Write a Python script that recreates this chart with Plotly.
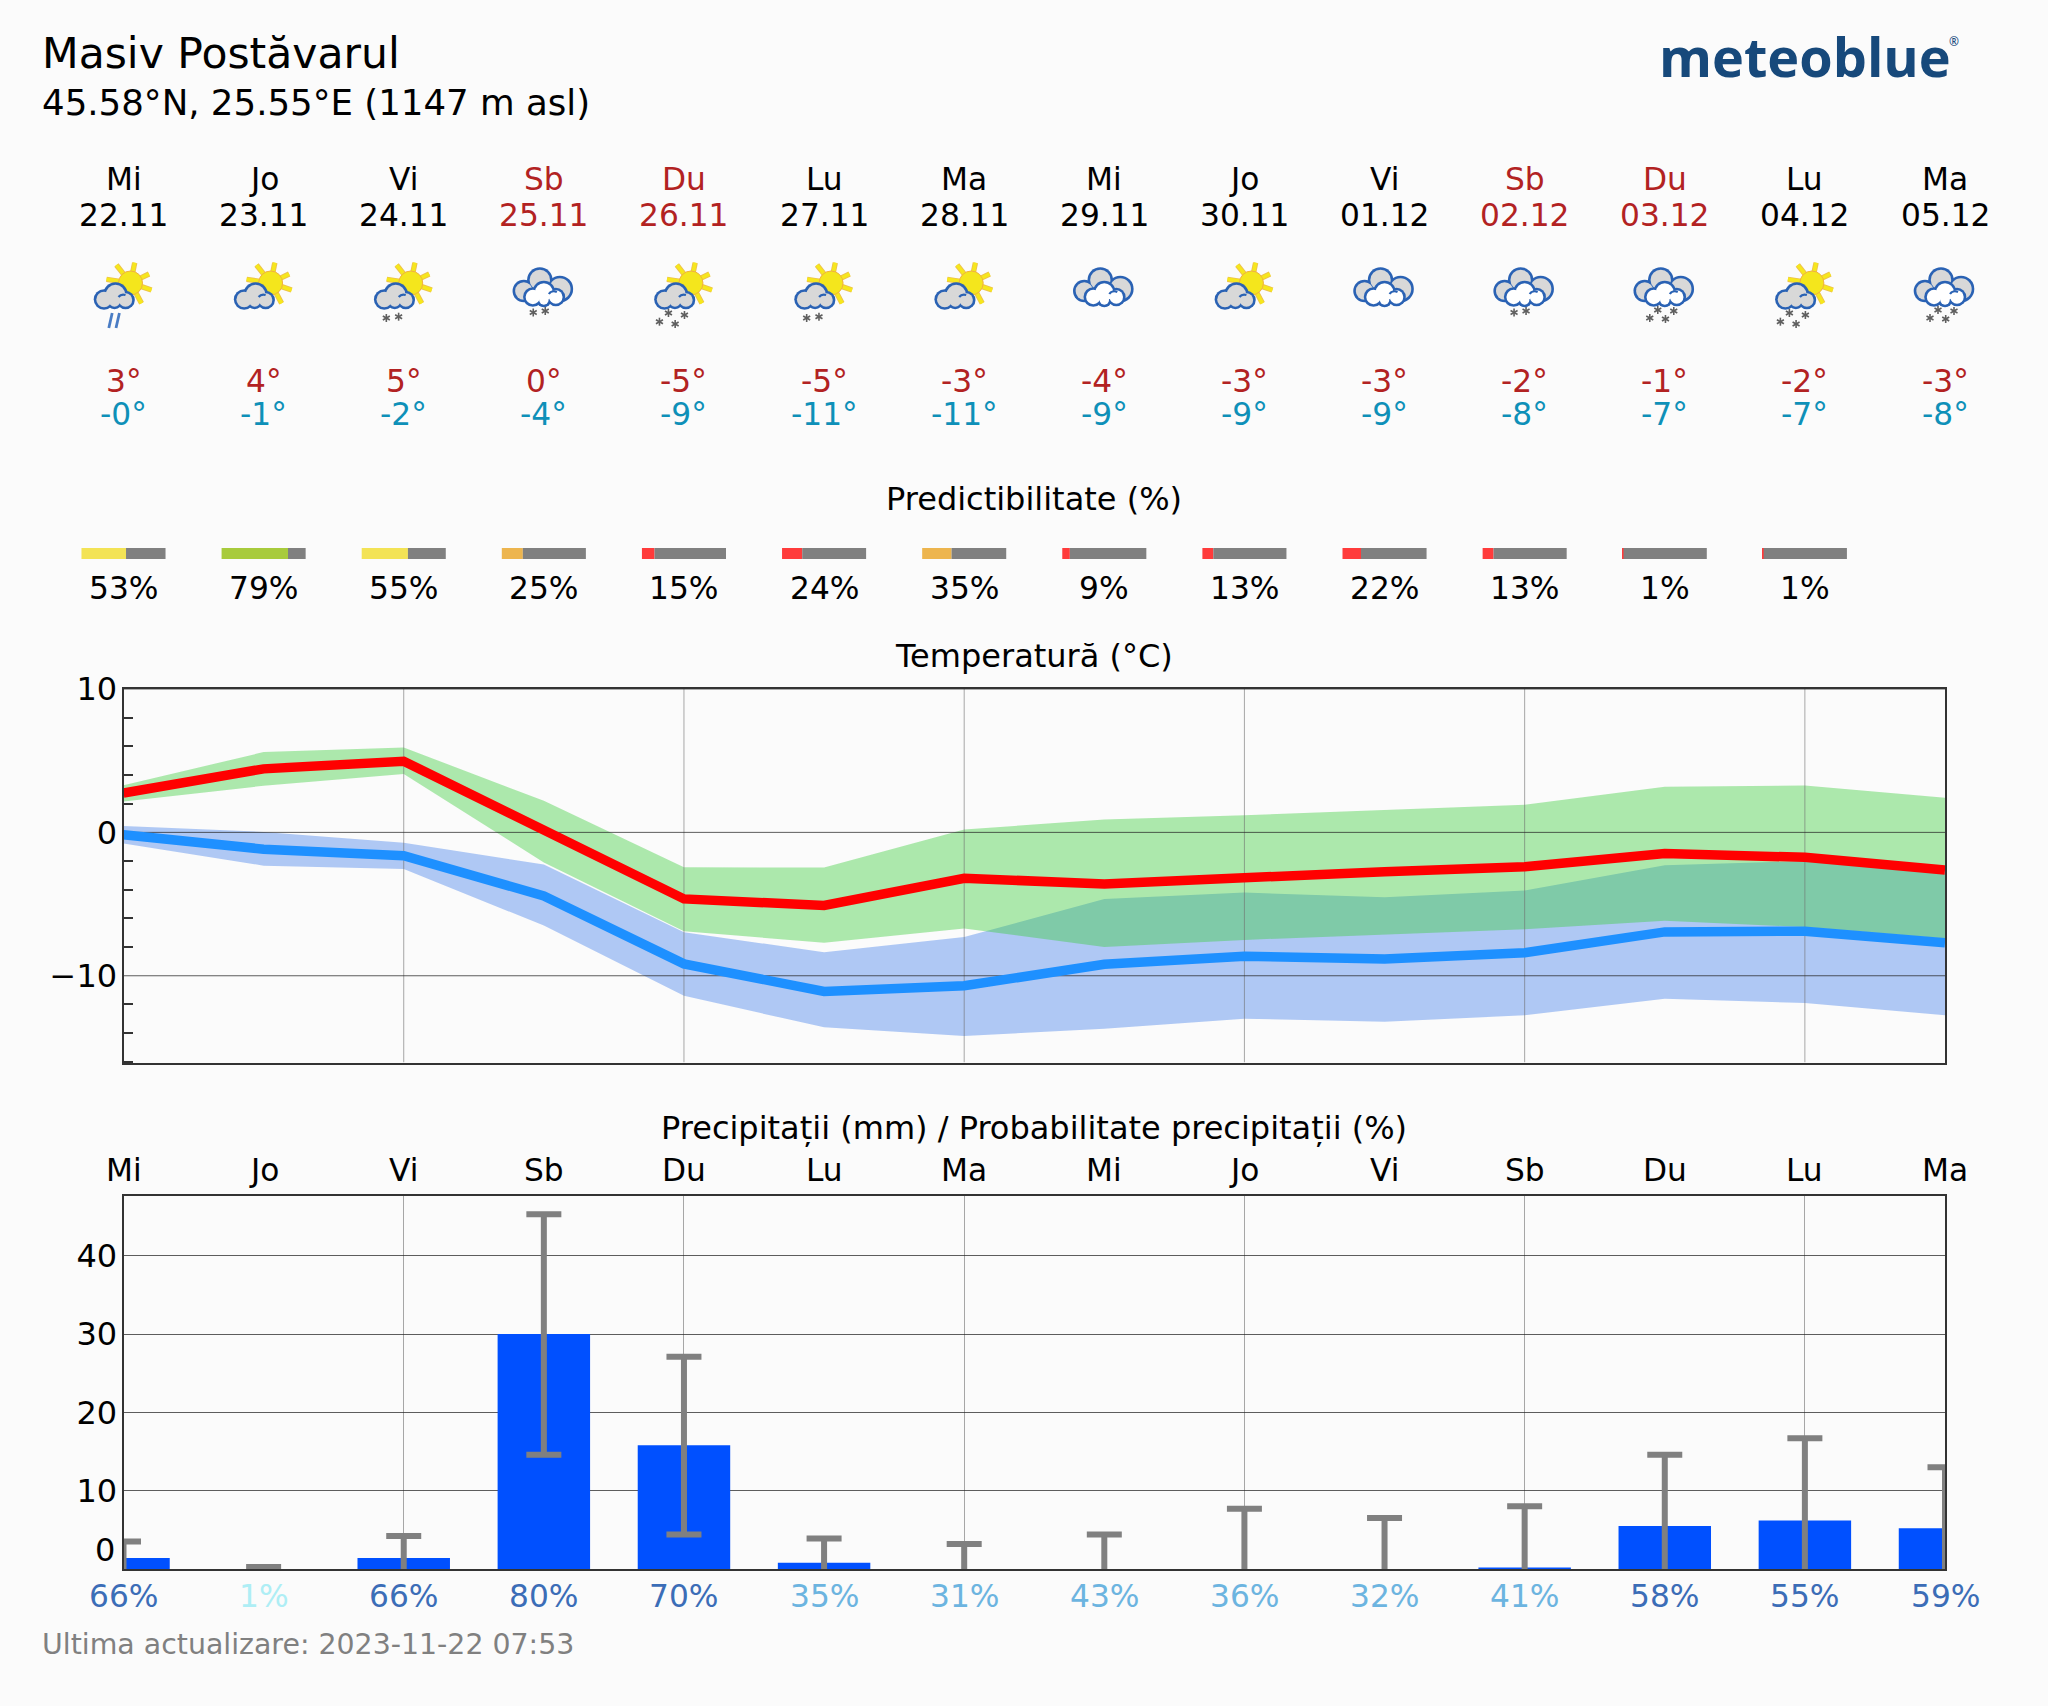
import base64
import math
import plotly.graph_objects as go

# ---------- data ----------
days = list(range(14))
weekday = ["Mi", "Jo", "Vi", "Sb", "Du", "Lu", "Ma", "Mi", "Jo", "Vi", "Sb", "Du", "Lu", "Ma"]
dates = ["22.11", "23.11", "24.11", "25.11", "26.11", "27.11", "28.11", "29.11", "30.11",
         "01.12", "02.12", "03.12", "04.12", "05.12"]
weekend = [3, 4, 10, 11]
tmax_lbl = ["3°", "4°", "5°", "0°", "-5°", "-5°", "-3°", "-4°", "-3°", "-3°", "-2°", "-1°", "-2°", "-3°"]
tmin_lbl = ["-0°", "-1°", "-2°", "-4°", "-9°", "-11°", "-11°", "-9°", "-9°", "-9°", "-8°", "-7°", "-7°", "-8°"]
icons = ["sun+rain", "sun", "sun+snow2", "big+snow2", "sun+snow4", "sun+snow2", "sun", "big", "sun", "big",
         "big+snow2", "big+snow4", "sun+snow4", "big+snow4"]

predict = [53, 79, 55, 25, 15, 24, 35, 9, 13, 22, 13, 1, 1]
predict_color = ["#F3E355", "#A8CB3C", "#F3E355", "#EDB54E", "#FF3B3B", "#FF3B3B", "#EDB54E", "#FF3B3B",
                 "#FF3B3B", "#FF3B3B", "#FF3B3B", "#FF3B3B", "#FF3B3B"]

t_max = [2.75, 4.43, 4.96, 0.08, -4.64, -5.1, -3.2, -3.6, -3.1, -2.74, -2.39, -1.48, -1.74, -2.62]
t_max_hi = [3.28, 5.6, 5.92, 2.2, -2.43, -2.45, 0.2, 0.9, 1.2, 1.55, 1.93, 3.18, 3.27, 2.41]
t_max_lo = [2.16, 3.25, 4.08, -2.1, -6.9, -7.7, -6.7, -8.0, -7.5, -7.1, -6.75, -6.17, -6.6, -7.4]
t_min = [-0.16, -1.17, -1.63, -4.43, -9.17, -11.1, -10.7, -9.2, -8.64, -8.84, -8.4, -6.94, -6.89, -7.7]
t_min_hi = [0.45, 0.03, -0.72, -2.24, -6.96, -8.36, -7.3, -4.64, -4.2, -4.52, -4.06, -2.3, -2.0, -2.85]
t_min_lo = [-0.77, -2.32, -2.56, -6.5, -11.4, -13.6, -14.2, -13.7, -13.0, -13.2, -12.76, -11.6, -11.9, -12.76]

prec = [1.4, 0, 1.4, 30, 15.8, 0.8, 0, 0, 0, 0, 0.2, 5.5, 6.2, 5.2]
prec_hi = [3.5, 0.25, 4.2, 45.3, 27.1, 3.9, 3.2, 4.4, 7.7, 6.5, 8.0, 14.6, 16.7, 13.0]
prec_lo = [-1, -1, -1, 14.6, 4.4, -1, -1, -1, -1, -1, -1, -1, -1, -1]
prec_prob = [66, 1, 66, 80, 70, 35, 31, 43, 36, 32, 41, 58, 55, 59]
prob_color = ["#3B6DB7", "#AEEEF5", "#3B6DB7", "#3B6DB7", "#3B6DB7", "#6CB4E0", "#6CB4E0", "#6CB4E0", "#6CB4E0",
              "#6CB4E0", "#6CB4E0", "#3B6DB7", "#3B6DB7", "#3B6DB7"]

temp_major = [-10, 0, 10]
temp_minor = [-16, -14, -12, -8, -6, -4, -2, 2, 4, 6, 8]
prec_ticks = [10, 20, 30, 40]
vgrid = [2, 4, 6, 8, 10, 12]

# ---------- page geometry ----------
W, H = 2048, 1706
FONT = "DejaVu Sans"
BG = "#FBFBFB"
AX_L, AX_R = 123.5, 1945
T_TOP, T_BOT = 689, 1062.5
P_TOP, P_BOT = 1195.5, 1569
B_TOP, B_BOT = 548, 559
YMIN = -16.05
PMAX = 47.7
BAR_W = 0.6
DAY_PX = (AX_R - AX_L) / 13


def py(y):
    return 1 - y / H


def xpx(d):
    return AX_L + DAY_PX * d


# ---------- icons (inline SVG) ----------
def circles(items, stroke, fill, sw=2.6):
    s = "".join(f'<circle cx="{x}" cy="{y}" r="{r + sw / 2}" fill="{stroke}"/>' for x, y, r in items)
    return s + "".join(f'<circle cx="{x}" cy="{y}" r="{r - sw / 2}" fill="{fill}"/>' for x, y, r in items)


def sun_svg():
    cx, cy = 62, 33
    ends = [(47.9, 15), (66.2, 12.7), (80.5, 24), (83, 40), (73, 53.3), (38, 29.3)]
    s = ""
    for col, w in (("#EDC24A", 5.4), ("#F6E71E", 3.6)):
        for ex, ey in ends:
            sx = cx + (ex - cx) * 0.45
            sy = cy + (ey - cy) * 0.45
            s += f'<line x1="{sx:.1f}" y1="{sy:.1f}" x2="{ex}" y2="{ey}" stroke="{col}" stroke-width="{w}"/>'
    s += f'<circle cx="{cx}" cy="{cy}" r="12" fill="#F4E61E" stroke="#F0B040" stroke-width="1"/>'
    return s


def small_cloud():
    s = circles([(35.5, 49.5, 9), (47, 44.5, 11), (57, 50, 8), (46, 51, 7)], "#2A62B4", "#D8D8D8")
    s += '<path d="M50 47 a6 5 0 0 1 7 -2" fill="none" stroke="#2A62B4" stroke-width="2.2"/>'
    return s


def big_cloud():
    s = circles([(35, 41, 10), (51, 30, 11.5), (71, 39, 12), (52, 42, 10)], "#2A62B4", "#D8D8D8")
    s += circles([(44, 47, 8.5), (55, 42, 10), (67, 47, 8), (55, 50, 6)], "#2A62B4", "#FFFFFF")
    s += '<path d="M60 44 a6 5 0 0 1 8 -2" fill="none" stroke="#2A62B4" stroke-width="2.2"/>'
    return s


def star(x, y, r=4):
    s = ""
    for k in range(3):
        a = math.pi / 3 * k + math.pi / 2
        dx, dy = r * math.cos(a), r * math.sin(a)
        s += (f'<line x1="{x - dx:.1f}" y1="{y - dy:.1f}" x2="{x + dx:.1f}" y2="{y + dy:.1f}" '
              f'stroke="#5F5F5F" stroke-width="1.6"/>')
    return s


STARS = {
    ("sun", "snow2"): [(37.6, 68), (49.9, 66.7)],
    ("sun", "snow4"): [(39.5, 63), (55.5, 65), (30.5, 71.7), (46.2, 74)],
    ("big", "snow2"): [(44.4, 62.5), (56.4, 61)],
    ("big", "snow4"): [(48, 60), (64, 61), (40, 68), (55.7, 69)],
}


def icon_uri(code):
    parts = code.split("+")
    kind = parts[0]
    extra = parts[1] if len(parts) > 1 else ""
    body = ""
    if kind == "sun":
        body += sun_svg() + small_cloud()
    else:
        body += big_cloud()
    if extra == "rain":
        for x0 in (40.3, 47.5):
            body += (f'<line x1="{x0}" y1="78" x2="{x0 + 3.4}" y2="63" stroke="#4A7CC4" stroke-width="2.8"/>')
    elif extra:
        for x, y in STARS[(kind, extra)]:
            body += star(x, y)
    svg = ('<svg xmlns="http://www.w3.org/2000/svg" width="110" height="90" viewBox="0 0 110 90">'
           '<filter id="b"><feGaussianBlur stdDeviation="0.35"/></filter>'
           f'<g filter="url(#b)">{body}</g></svg>')
    return "data:image/svg+xml;base64," + base64.b64encode(svg.encode()).decode()


# ---------- figure ----------
fig = go.Figure()

# predictability strip
fig.add_trace(go.Bar(
    orientation="h", y=[0.5] * len(predict), x=[BAR_W * p / 100 for p in predict],
    base=[d - BAR_W / 2 for d in days[:len(predict)]], width=1, marker=dict(color=predict_color, line_width=0),
    xaxis="x3", yaxis="y3", hoverinfo="skip"))
fig.add_trace(go.Bar(
    orientation="h", y=[0.5] * len(predict), x=[BAR_W * (100 - p) / 100 for p in predict],
    base=[d - BAR_W / 2 + BAR_W * p / 100 for d, p in zip(days, predict)], width=1,
    marker=dict(color="#808080", line_width=0), xaxis="x3", yaxis="y3", hoverinfo="skip"))

# temperature bands
BLUE_FILL = "rgba(63,126,236,0.4)"
GREEN_FILL = "rgba(55,205,55,0.4)"
fig.add_trace(go.Scatter(x=days, y=t_min_hi, mode="lines", line=dict(width=0), xaxis="x", yaxis="y", hoverinfo="skip"))
fig.add_trace(go.Scatter(x=days, y=t_min_lo, mode="lines", line=dict(width=0), fill="tonexty", fillcolor=BLUE_FILL,
                         xaxis="x", yaxis="y", hoverinfo="skip"))
fig.add_trace(go.Scatter(x=days, y=t_max_hi, mode="lines", line=dict(width=0), xaxis="x", yaxis="y", hoverinfo="skip"))
fig.add_trace(go.Scatter(x=days, y=t_max_lo, mode="lines", line=dict(width=0), fill="tonexty", fillcolor=GREEN_FILL,
                         xaxis="x", yaxis="y", hoverinfo="skip"))

# temperature grid over the bands, under the lines
gx, gy = [], []
for v in vgrid:
    gx += [v, v, None]
    gy += [YMIN, 10, None]
fig.add_trace(go.Scatter(x=gx, y=gy, mode="lines", line=dict(color="rgba(110,110,110,0.6)", width=1),
                         xaxis="x", yaxis="y", hoverinfo="skip"))
hx, hy = [], []
for v in temp_major:
    hx += [0, 13, None]
    hy += [v, v, None]
fig.add_trace(go.Scatter(x=hx, y=hy, mode="lines", line=dict(color="rgba(40,40,40,0.75)", width=1),
                         xaxis="x", yaxis="y", hoverinfo="skip"))

fig.add_trace(go.Scatter(x=days, y=t_max, mode="lines", line=dict(color="#FF0000", width=9.5), xaxis="x", yaxis="y",
                         hoverinfo="skip"))
fig.add_trace(go.Scatter(x=days, y=t_min, mode="lines", line=dict(color="#1E90FF", width=9.5), xaxis="x", yaxis="y",
                         hoverinfo="skip"))

# precipitation
fig.add_trace(go.Bar(
    x=days, y=prec, width=0.66, marker=dict(color="#0050FF", line_width=0), xaxis="x2", yaxis="y2", hoverinfo="skip",
    error_y=dict(type="data", symmetric=False,
                 array=[h - v for h, v in zip(prec_hi, prec)],
                 arrayminus=[v - l for v, l in zip(prec, prec_lo)],
                 color="#808080", thickness=6, width=17.5)))

# ---------- annotations ----------
ann = []


def text(x, y, s, size=31.25, color="black", anchor="center", xref="x", **font):
    ann.append(dict(x=x, y=py(y), xref=xref, yref="paper", text=s, showarrow=False, xanchor=anchor, yanchor="middle",
                    font=dict(family=font.pop("family", FONT), size=size, color=color, **font)))


LEFT = 39.5 / W
text(LEFT, 53.5, "Masiv Postăvarul", size=42.5, anchor="left", xref="paper")
text(LEFT, 103, "45.58°N, 25.55°E (1147 m asl)", size=35.6, anchor="left", xref="paper")
text(1805 / W, 56, "meteoblue", size=54, color="#17497B", xref="paper", family="Open Sans", weight=700)
text(1954 / W, 41, "®", size=12, color="#17497B", xref="paper", family="Open Sans", weight=600)

RED = "#B22222"
for d in days:
    col = RED if d in weekend else "black"
    text(d, 179, weekday[d], color=col)
    text(d, 215, dates[d], color=col)
    text(d, 381.5, tmax_lbl[d], color=RED)
    text(d, 413.5, tmin_lbl[d], color="#0E90B8")
    text(d, 1170, weekday[d], xref="x2")
    text(d, 1596, f"{prec_prob[d]}%", color=prob_color[d], xref="x2")

for d, p in enumerate(predict):
    text(d, 588, f"{p}%")

MID = 1033.5 / W
text(MID, 499, "Predictibilitate (%)", size=32, xref="paper")
text(MID, 656, "Temperatură (°C)", size=32, xref="paper")
text(MID, 1128, "Precipitații (mm) / Probabilitate precipitații (%)", size=32, xref="paper")
text(117 / W, 1550, "0", size=32, anchor="right", xref="paper")
text(LEFT, 1644, "Ultima actualizare: 2023-11-22 07:53", size=28.4, color="#808080", anchor="left", xref="paper")

images = [dict(source=icon_uri(code), xref="paper", yref="paper", x=(xpx(d) - 55) / W, y=py(250), sizex=110 / W,
               sizey=90 / H, xanchor="left", yanchor="top", sizing="stretch", layer="above")
          for d, code in enumerate(icons)]

dom_x = [AX_L / W, AX_R / W]
frame = dict(showline=True, mirror=True, linecolor="#333333", linewidth=2, layer="above traces", automargin=False)

fig.update_layout(
    width=W, height=H, autosize=False, margin=dict(l=0, r=0, t=0, b=0),
    paper_bgcolor=BG, plot_bgcolor=BG, showlegend=False, barmode="overlay",
    font=dict(family=FONT, size=32, color="black"),
    annotations=ann, images=images,
    xaxis=dict(domain=dom_x, range=[0, 13], showgrid=False, zeroline=False, showticklabels=False, ticks="", anchor="y",
               **frame),
    yaxis=dict(domain=[py(T_BOT), py(T_TOP)], range=[YMIN, 10], tickvals=temp_major, ticks="", showgrid=False,
               zeroline=False, anchor="x", ticklabelstandoff=-2,
               minor=dict(tickvals=temp_minor, ticks="inside", ticklen=9, tickcolor="#333333", tickwidth=1.5,
                          showgrid=False),
               **frame),
    xaxis2=dict(domain=dom_x, range=[0, 13], tickvals=vgrid, showticklabels=False, ticks="", showgrid=True,
                gridcolor="rgba(110,110,110,0.6)", gridwidth=1, zeroline=False, anchor="y2", **frame),
    yaxis2=dict(domain=[py(P_BOT), py(P_TOP)], range=[0, PMAX], tickvals=prec_ticks, ticks="", showgrid=True,
                gridcolor="rgba(40,40,40,0.75)", gridwidth=1, zeroline=False, anchor="x2", ticklabelstandoff=-2,
                **frame),
    xaxis3=dict(domain=[0, 1], range=[-AX_L / DAY_PX, (W - AX_L) / DAY_PX], visible=False, anchor="y3",
                automargin=False),
    yaxis3=dict(domain=[py(B_BOT), py(B_TOP)], range=[0, 1], visible=False, anchor="x3", automargin=False),
)

fig.write_html("out.html", config={"displayModeBar": False},
               post_script="document.body.style.margin='0';document.body.style.background='#FBFBFB';")
